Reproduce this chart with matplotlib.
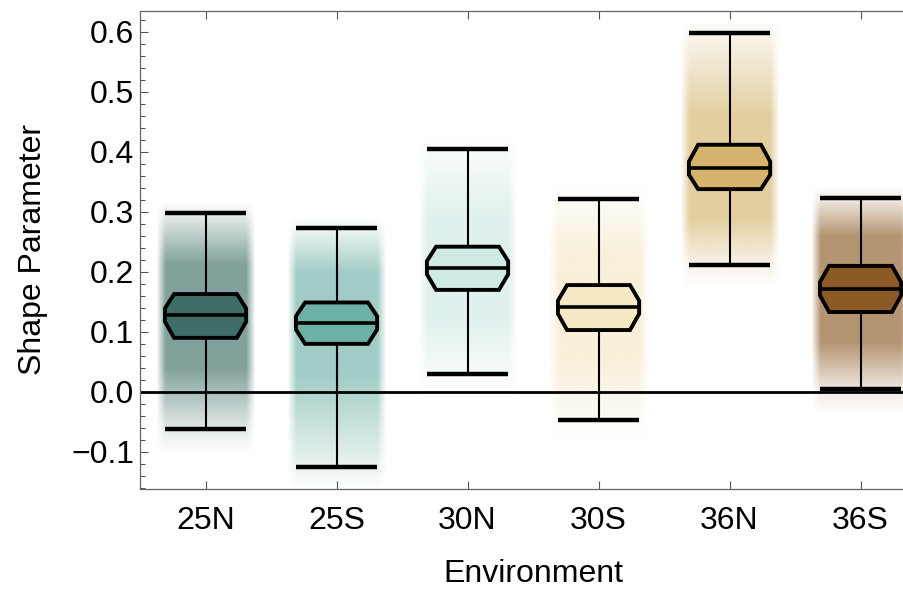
import numpy as np
import matplotlib
matplotlib.use('Agg')
from matplotlib import pyplot as plt
from matplotlib.patches import Polygon
from matplotlib.colors import to_rgb
from matplotlib.ticker import MultipleLocator

plt.rcParams['font.family'] = ['Liberation Sans', 'DejaVu Sans']

# values
envs = ['25N', '25S', '30N', '30S', '36N', '36S']
whisk_lo = [-0.062, -0.125, 0.030, -0.047, 0.212, 0.005]
q1 = [0.090, 0.080, 0.170, 0.103, 0.338, 0.133]
med = [0.128, 0.115, 0.207, 0.141, 0.373, 0.172]
q3 = [0.163, 0.149, 0.242, 0.178, 0.412, 0.210]
whisk_hi = [0.298, 0.273, 0.405, 0.322, 0.598, 0.323]
colors = ['#3e6e66', '#6db0a6', '#cfe9e5', '#f5e8c5', '#d4b46c', '#8c5a24']

fig = plt.figure(figsize=(9.04, 5.91), dpi=100)
ax = fig.add_axes([0.1549, 0.1726, 0.8695, 0.8088])
ax.set_xlim(0.5, 6.5)
ax.set_ylim(-0.162, 0.635)

wide = 0.31
narrow = 0.24
cap = 0.31
dn = 0.011

for i, name in enumerate(envs):
    x = i + 1
    # soft cloud shading behind the box (stands in for the jittered points)
    yy = np.linspace(whisk_lo[i] - 0.04, whisk_hi[i] + 0.02, 300)
    prof = np.interp(yy, [whisk_lo[i] - 0.04, whisk_lo[i], q1[i] - 0.05, q3[i] + 0.05, whisk_hi[i], whisk_hi[i] + 0.02],
                     [0.0, 0.15, 0.65, 0.65, 0.12, 0.0])
    xx = np.linspace(-0.38, 0.38, 80)
    hprof = np.clip((0.38 - np.abs(xx)) / 0.07, 0, 1)
    rgba = np.zeros((len(yy), len(xx), 4))
    rgba[..., :3] = to_rgb(colors[i])
    rgba[..., 3] = prof[:, None] * hprof[None, :]
    ax.imshow(rgba, extent=(x - 0.38, x + 0.38, yy[0], yy[-1]), origin='lower',
              aspect='auto', interpolation='bilinear', zorder=1)

    # whiskers and caps
    ax.plot([x, x], [whisk_lo[i], q1[i]], color='k', lw=1.5, zorder=3)
    ax.plot([x, x], [q3[i], whisk_hi[i]], color='k', lw=1.5, zorder=3)
    ax.plot([x - cap, x + cap], [whisk_hi[i], whisk_hi[i]], color='k', lw=3.2, solid_capstyle='butt', zorder=3)
    ax.plot([x - cap, x + cap], [whisk_lo[i], whisk_lo[i]], color='k', lw=3.2, solid_capstyle='butt', zorder=3)

    # notched box
    verts = [(x - narrow, q3[i]), (x + narrow, q3[i]), (x + wide, med[i] + dn), (x + wide, med[i] - dn),
             (x + narrow, q1[i]), (x - narrow, q1[i]), (x - wide, med[i] - dn), (x - wide, med[i] + dn)]
    ax.add_patch(Polygon(verts, closed=True, facecolor=colors[i], edgecolor='k', lw=2.8,
                         joinstyle='miter', zorder=4))
    ax.plot([x - wide, x + wide], [med[i], med[i]], color='k', lw=2.6, zorder=5)

ax.axhline(0, color='k', lw=2, zorder=2)

ax.set_xticks(range(1, 7))
ax.set_xticklabels(envs, fontsize=23)
ax.yaxis.set_major_locator(MultipleLocator(0.1))
ax.yaxis.set_minor_locator(MultipleLocator(0.02))
ax.set_yticks([-0.1, 0.0, 0.1, 0.2, 0.3, 0.4, 0.5, 0.6])
ax.set_yticklabels(['\u22120.1', '0.0', '0.1', '0.2', '0.3', '0.4', '0.5', '0.6'], fontsize=23)
ax.tick_params(axis='both', which='both', direction='in', top=True, right=True, color='#555555')
ax.tick_params(axis='both', which='major', length=6, width=0.8)
ax.tick_params(axis='x', which='major', pad=12)
ax.tick_params(axis='y', which='major', pad=4)
ax.tick_params(axis='y', which='minor', length=3.5, width=0.8)
for s in ax.spines.values():
    s.set_color('#666666')
    s.set_linewidth(0.9)

ax.set_xlabel('Environment', fontsize=23, labelpad=17)
ax.set_ylabel('Shape Parameter', fontsize=23, labelpad=17)

plt.savefig('out.png', dpi=100)
